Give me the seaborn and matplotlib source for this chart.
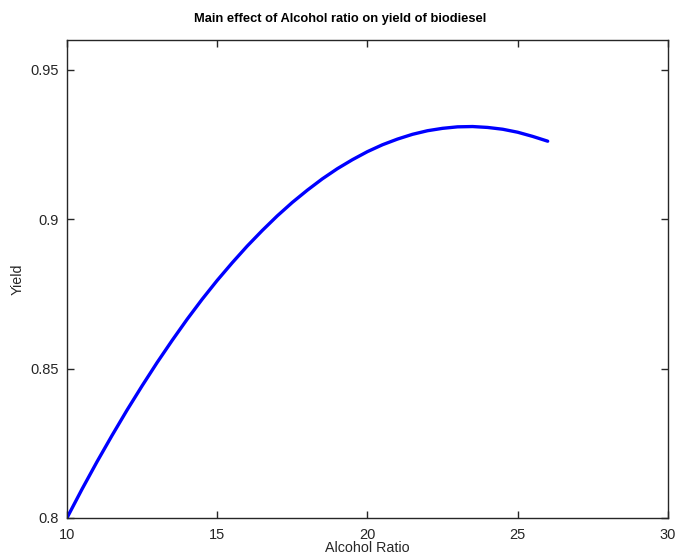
import matplotlib
matplotlib.use("Agg")
import matplotlib.pyplot as plt
import seaborn as sns
import pandas as pd

alcohol_ratio = [10, 10.5, 11, 11.5, 12, 12.5, 13, 13.5, 14, 14.5, 15, 15.5, 16, 16.5,
                 17, 17.5, 18, 18.5, 19, 19.5, 20, 20.5, 21, 21.5, 22, 22.5, 23, 23.5,
                 24, 24.5, 25, 25.5, 26]
yield_values = [0.8000, 0.8096, 0.8188, 0.8276, 0.8361, 0.8442, 0.8520, 0.8594,
                0.8665, 0.8732, 0.8795, 0.8854, 0.8910, 0.8962, 0.9011, 0.9056,
                0.9097, 0.9135, 0.9169, 0.9199, 0.9226, 0.9249, 0.9268, 0.9284,
                0.9296, 0.9304, 0.9309, 0.9310, 0.9307, 0.9301, 0.9291, 0.9277, 0.9261]
x_ticks = [10, 15, 20, 25, 30]
y_ticks = [0.8, 0.85, 0.9, 0.95]
y_tick_labels = ["0.8", "0.85", "0.9", "0.95"]

sns.set_style("ticks")
plt.rcParams['font.family'] = ['Liberation Sans', 'DejaVu Sans']

df = pd.DataFrame({"Alcohol Ratio": alcohol_ratio, "Yield": yield_values})

fig = plt.figure(figsize=(6.76, 5.54), dpi=100)
ax = fig.add_axes([0.099, 0.065, 0.889, 0.863])
sns.lineplot(data=df, x="Alcohol Ratio", y="Yield", ax=ax, color="#0000ff", linewidth=2.4)

ax.set_xlim(10, 30)
ax.set_ylim(0.8, 0.96)
ax.set_xticks(x_ticks)
ax.set_xticklabels([str(t) for t in x_ticks])
ax.set_yticks(y_ticks)
ax.set_yticklabels(y_tick_labels)
ax.tick_params(direction="in", length=5, width=1, top=True, right=True,
               labelsize=10.5, colors="#262626")
ax.tick_params(axis="x", pad=7)
ax.tick_params(axis="y", pad=6)
for s in ax.spines.values():
    s.set_visible(True)
    s.set_linewidth(1.0)
    s.set_color("#262626")
ax.set_xlabel("Alcohol Ratio", fontsize=10.3, color="#262626", va="center")
ax.xaxis.set_label_coords(0.5, -0.0625)
ax.set_ylabel("Yield", fontsize=10.3, color="#262626", va="center")
ax.yaxis.set_label_coords(-0.0815, 0.5)
fig.text(0.503, 0.965, "Main effect of Alcohol ratio on yield of biodiesel",
         fontsize=9.3, fontweight="bold", ha="center", va="center", color="black")

fig.savefig("out.png", dpi=100)
